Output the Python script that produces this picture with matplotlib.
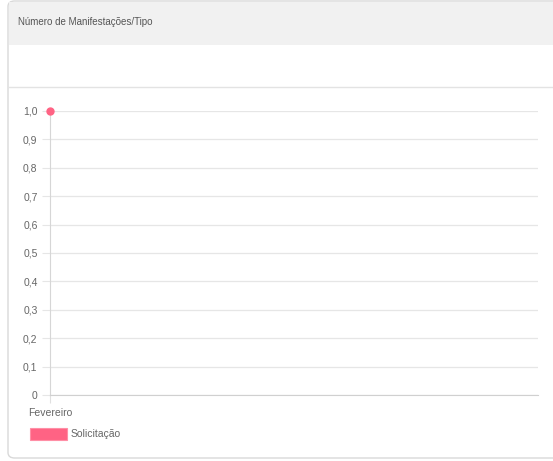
import matplotlib.pyplot as plt
from matplotlib.patches import FancyBboxPatch, Rectangle
from matplotlib.lines import Line2D

plt.rcParams['font.family'] = ['Liberation Sans', 'DejaVu Sans']

# data
meses = ['Fevereiro']
solicitacao = [1]
y_ticks = [0, 0.1, 0.2, 0.3, 0.4, 0.5, 0.6, 0.7, 0.8, 0.9, 1.0]

W, H = 553, 461
fig = plt.figure(figsize=(W / 100, H / 100), dpi=100)

def fx(px):
    return px / W

def fy(py):
    return 1 - py / H

# card
card = FancyBboxPatch((fx(8), fy(458)), fx(575) - fx(8), fy(1) - fy(458),
                      boxstyle='round,pad=0,rounding_size=0.012',
                      transform=fig.transFigure, facecolor='white',
                      edgecolor='#d9d9d9', linewidth=1.0)
fig.patches.append(card)
header = Rectangle((fx(9), fy(45)), fx(575) - fx(9), fy(2) - fy(45),
                   transform=fig.transFigure, facecolor='#f1f1f1', edgecolor='none')
fig.patches.append(header)
fig.lines.append(Line2D([fx(9), 1], [fy(87), fy(87)], transform=fig.transFigure,
                        color='#e3e3e3', linewidth=1))
fig.text(fx(18), fy(22), 'Número de Manifestações/Tipo', fontsize=7,
         color='#555555', va='center', ha='left')

# plot area
ax = fig.add_axes([fx(50), fy(395), fx(538) - fx(50), fy(111) - fy(395)])
ax.set_zorder(3)
ax.set_facecolor('none')
x = list(range(len(meses)))
ax.plot(x, solicitacao, color='#ff6384', marker='o', markersize=5,
        linestyle='-', clip_on=False, zorder=5)
ax.set_xlim(0, 1)
ax.set_ylim(0, 1)
ax.set_yticks(y_ticks)
ax.set_yticklabels([f'{v:.1f}'.replace('.', ',') if v else '0' for v in y_ticks])
ax.set_xticks(x)
ax.set_xticklabels(meses)
ax.grid(axis='y', color='#e6e6e6', linewidth=0.9)
for s in ['top', 'right']:
    ax.spines[s].set_visible(False)
ax.spines['left'].set_color('#d6d6d6')
ax.spines['bottom'].set_color('#d0d0d0')
ax.tick_params(axis='y', length=6, color='#e6e6e6', labelsize=7.5,
               labelcolor='#666666', pad=3)
ax.tick_params(axis='x', length=6, color='#e0e0e0', labelsize=7.5,
               labelcolor='#666666', pad=3)

# legend
fig.patches.append(Rectangle((fx(30), fy(440)), fx(67) - fx(30), fy(428) - fy(440),
                             transform=fig.transFigure, facecolor='#ff6384',
                             edgecolor='#ff8fa6', linewidth=0.8))
fig.text(fx(71), fy(434), 'Solicitação', fontsize=7.5, color='#666666',
         va='center', ha='left')

fig.savefig('out.png', dpi=100)
